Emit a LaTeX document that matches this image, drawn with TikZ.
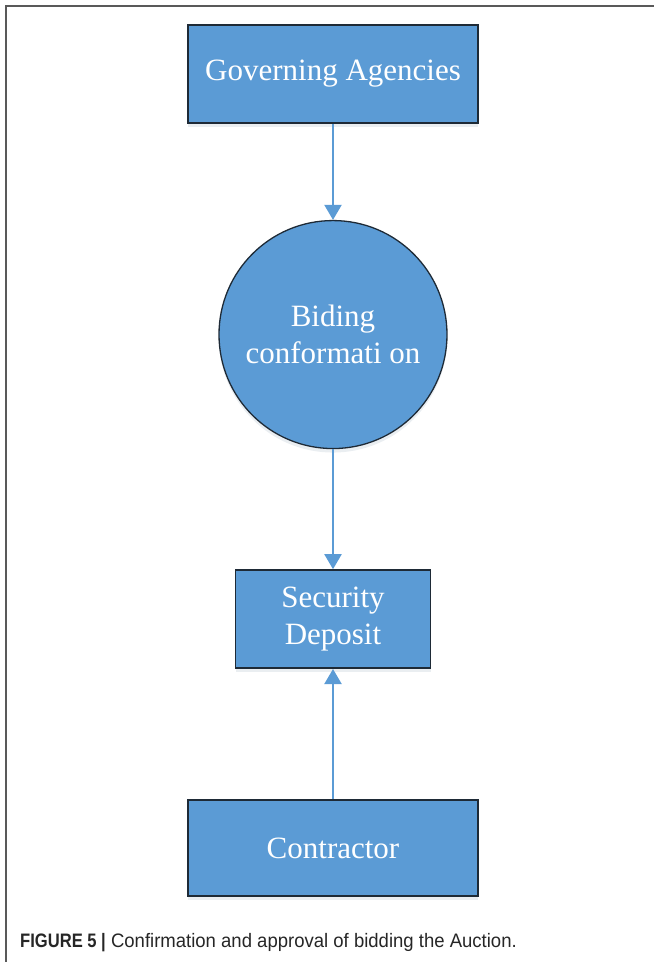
\documentclass[tikz,border=0pt]{standalone}
\usepackage{fontspec}
\setmainfont{Liberation Serif}
\newfontfamily\capfont[FakeStretch=0.95,BoldFeatures={FakeStretch=0.85}]{Liberation Sans}
\usepackage{tikz}
\usetikzlibrary{positioning,arrows.meta,shadows}
\definecolor{boxblue}{HTML}{5B9BD5}
\definecolor{boxline}{HTML}{1E2A36}

\begin{document}
\begin{tikzpicture}[x=1pt,y=1pt,>={Triangle[width=17pt,length=15pt]},
   box/.style={draw=boxline,line width=1.8pt,fill=boxblue,text=white,align=center,
     font=\fontsize{31pt}{37pt}\selectfont,
     drop shadow={opacity=0.15,shadow xshift=0pt,shadow yshift=-4pt,fill=boxblue!40!gray}},
   circ/.style={box,circle,line width=1.3pt,inner sep=0pt,minimum size=228pt},
   link/.style={->,draw=boxblue,line width=2pt}]
  \useasboundingbox (0,0) rectangle (654,-962);
  \draw[gray!70!black,line width=1.6pt] (6,-962) -- (6,-6) -- (654,-6);
  \node[box,minimum width=290pt,minimum height=98pt] (gov) at (333,-74) {Governing Agencies};
  \node[circ,below=96pt of gov] (bid) {Biding\\conformati on};
  \node[box,below=120pt of bid,minimum width=195pt,minimum height=98pt] (sec) {Security\\Deposit};
  \node[box,below=130pt of sec,minimum width=290pt,minimum height=96pt] (con) {Contractor};
  \draw[link] (gov)--(bid);
  \draw[link] (bid)--(sec);
  \draw[link] (con)--(sec);
  \node[anchor=base west,inner sep=0pt,text=black!85,font=\capfont\fontsize{19.5pt}{22pt}\selectfont] (cap) at (20,-947)
    {{\bfseries FIGURE 5 |} Confirmation and approval of bidding the Auction.};
\end{tikzpicture}
\end{document}
